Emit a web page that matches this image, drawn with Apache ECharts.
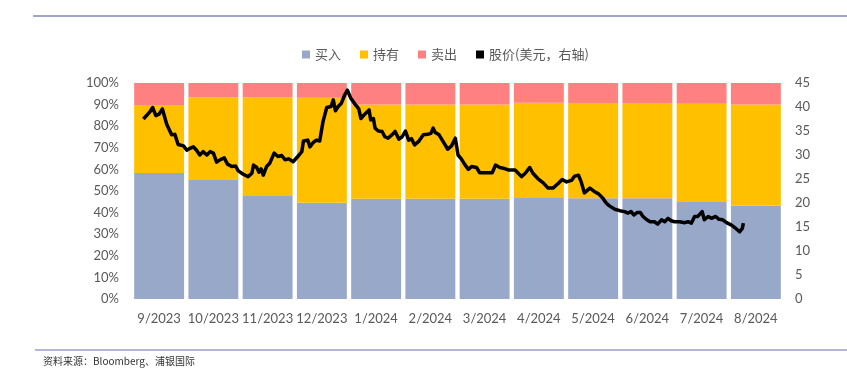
<!DOCTYPE html>
<html lang="zh">
<head>
    <meta charset="UTF-8">
    <title>评级分布与股价</title>
    <style type="text/css">
        * {
            margin: 0;
            padding: 0;
        }

        html, body {
            width: 100%;
            height: 100%;
            background: #fff;
        }

        #chart-panel {
            width: 847px;
            height: 369px;
        }
    </style>
</head>
<body>

<div id="chart-panel"></div>

<script src="https://cdn.jsdelivr.net/npm/echarts@6/dist/echarts.min.js"></script>
<script>

    // 月份
    let months = ['9/2023', '10/2023', '11/2023', '12/2023', '1/2024', '2/2024',
        '3/2024', '4/2024', '5/2024', '6/2024', '7/2024', '8/2024'];
    // 评级占比 (%)
    let buyPct = [58.3, 55.1, 48.0, 44.6, 46.4, 46.4, 46.4, 46.8, 46.6, 46.6, 44.9, 43.2];
    let holdPct = [31.5, 38.3, 45.4, 48.6, 43.7, 43.7, 43.7, 44.1, 44.1, 44.1, 45.5, 46.9];
    let sellPct = [10.2, 6.6, 6.6, 6.8, 9.9, 9.9, 9.9, 9.1, 9.3, 9.3, 9.6, 9.9];
    // 股价: 距 2023-09-01 的月数, 价格(美元)
    let priceMonth = [0.21, 0.33, 0.38, 0.44, 0.50, 0.56, 0.64, 0.67, 0.73, 0.79, 0.85, 0.95,
        1.01, 1.07, 1.13, 1.19, 1.25, 1.31, 1.38, 1.44, 1.50, 1.56, 1.62, 1.70, 1.76, 1.84, 1.91, 1.96,
        2.05, 2.14, 2.21, 2.24, 2.30, 2.34, 2.38, 2.42, 2.48, 2.54, 2.62, 2.69, 2.76, 2.82, 2.89, 2.97,
        3.00, 3.08, 3.13, 3.16, 3.24, 3.28, 3.34, 3.40, 3.46, 3.52, 3.59, 3.67, 3.71, 3.75, 3.80, 3.86, 3.92, 3.97,
        4.03, 4.11, 4.18, 4.22, 4.29, 4.37, 4.40, 4.45, 4.48, 4.54, 4.61, 4.66, 4.72, 4.80, 4.85, 4.92, 4.98,
        5.04, 5.10, 5.15, 5.21, 5.29, 5.37, 5.45, 5.51, 5.55, 5.59, 5.66, 5.73, 5.82, 5.89, 5.96,
        6.01, 6.07, 6.13, 6.20, 6.26, 6.35, 6.41, 6.50, 6.64, 6.70, 6.78, 6.86, 6.93,
        7.06, 7.12, 7.18, 7.25, 7.33, 7.39, 7.48, 7.58, 7.67, 7.76, 7.85, 7.93,
        8.01, 8.10, 8.16, 8.23, 8.28, 8.34, 8.44, 8.52, 8.60, 8.68, 8.74, 8.80, 8.90, 8.99,
        9.08, 9.14, 9.20, 9.25, 9.31, 9.37, 9.42, 9.49, 9.55, 9.63, 9.69, 9.76, 9.82, 9.88, 9.94,
        10.00, 10.09, 10.19, 10.25, 10.31, 10.37, 10.43, 10.51, 10.55, 10.62, 10.68, 10.76, 10.82, 10.89, 10.96,
        11.05, 11.13, 11.20, 11.25, 11.27];
    let price = [37.5, 39.0, 39.9, 38.2, 38.5, 39.6, 36.4, 36.8, 34.2, 34.3, 32.2, 31.9,
        31.0, 31.4, 31.7, 31.0, 30.0, 30.7, 30.0, 30.7, 30.4, 28.5, 29.0, 29.4, 28.1, 27.6, 27.7, 26.7,
        26.0, 25.5, 26.2, 27.9, 27.4, 26.4, 27.1, 25.8, 27.6, 28.3, 30.4, 29.7, 29.9, 29.0, 29.2, 28.6,
        28.3, 30.0, 30.7, 32.9, 33.1, 31.7, 32.6, 33.1, 32.9, 36.9, 39.9, 40.1, 41.5, 39.2, 40.1, 40.8, 42.5, 43.5,
        41.9, 40.6, 39.6, 37.6, 38.5, 39.4, 37.3, 37.6, 35.6, 35.0, 34.9, 33.8, 33.5, 34.3, 34.9, 33.3, 33.8,
        35.0, 33.1, 33.4, 32.1, 32.9, 34.2, 34.3, 34.5, 35.6, 34.7, 34.2, 32.9, 31.2, 31.9, 33.5,
        30.0, 29.2, 28.1, 27.0, 27.6, 27.4, 26.3, 26.3, 26.3, 27.9, 27.4, 27.2, 26.9,
        26.9, 26.2, 25.5, 26.2, 27.4, 26.2, 25.1, 24.2, 23.1, 23.1, 24.0, 24.9,
        24.4, 24.7, 25.6, 25.8, 24.4, 22.1, 23.1, 22.4, 21.9, 21.0, 20.0, 19.4, 18.7, 18.4,
        18.2, 17.9, 18.2, 17.5, 18.0, 18.0, 17.2, 16.5, 16.1, 16.1, 15.6, 16.5, 16.1, 16.8, 16.3,
        16.1, 16.1, 15.9, 16.1, 15.8, 17.2, 17.2, 18.2, 16.5, 17.2, 16.8, 17.2, 16.6, 16.5, 15.9,
        15.4, 14.7, 14.0, 14.7, 15.8];
    let leftTicks = { min: 0, max: 100, interval: 10 };
    let rightTicks = { min: 0, max: 45, interval: 5 };

    let priceData = priceMonth.map((m, i) => [m, price[i]]);

    let labelFont = "Lato, 'Noto Sans', sans-serif";
    let cjkFont = "'Noto Sans CJK SC', sans-serif";
    let axisColor = '#595959';

    var myChart = echarts.init(document.getElementById('chart-panel'), null, { renderer: 'canvas' });

    var option = {
        animation: false,
        backgroundColor: '#fff',
        legend: {
            left: 297,
            top: 43,
            itemWidth: 8,
            itemHeight: 8,
            itemGap: 19,
            icon: 'rect',
            textStyle: {
                color: axisColor,
                fontSize: 13,
                fontFamily: cjkFont
            },
            data: ['买入', '持有', '卖出', '股价(美元，右轴)']
        },
        grid: {
            left: 132,
            right: 64,
            top: 83,
            bottom: 70
        },
        xAxis: [{
            type: 'category',
            data: months,
            axisLine: { show: false },
            axisTick: { show: false },
            axisLabel: {
                interval: 0,
                color: axisColor,
                fontSize: 13,
                fontFamily: labelFont,
                margin: 13
            }
        }, {
            type: 'value',
            min: 0,
            max: 12,
            show: false
        }],
        yAxis: [{
            type: 'value',
            min: leftTicks.min,
            max: leftTicks.max,
            interval: leftTicks.interval,
            splitLine: { show: false },
            axisLine: { show: false },
            axisTick: { show: false },
            axisLabel: {
                formatter: '{value}%',
                color: axisColor,
                fontSize: 13,
                fontFamily: labelFont,
                margin: 13
            }
        }, {
            type: 'value',
            min: rightTicks.min,
            max: rightTicks.max,
            interval: rightTicks.interval,
            splitLine: { show: false },
            axisLine: { show: false },
            axisTick: { show: false },
            axisLabel: {
                color: axisColor,
                fontSize: 13,
                fontFamily: labelFont,
                margin: 12
            }
        }],
        series: [{
            name: '买入',
            type: 'bar',
            stack: 'pct',
            barCategoryGap: '8%',
            itemStyle: { color: '#98A8C8' },
            data: buyPct
        }, {
            name: '持有',
            type: 'bar',
            stack: 'pct',
            itemStyle: { color: '#FFC000' },
            data: holdPct
        }, {
            name: '卖出',
            type: 'bar',
            stack: 'pct',
            itemStyle: { color: '#FF8080' },
            data: sellPct
        }, {
            name: '股价(美元，右轴)',
            type: 'line',
            xAxisIndex: 1,
            yAxisIndex: 1,
            showSymbol: false,
            symbol: 'none',
            z: 5,
            itemStyle: { color: '#000' },
            lineStyle: {
                color: '#000',
                width: 3.5,
                join: 'round'
            },
            data: priceData
        }],
        graphic: [{
            type: 'line',
            shape: { x1: 33, y1: 16, x2: 847, y2: 16 },
            style: { stroke: '#A3A3D0', lineWidth: 2 }
        }, {
            type: 'line',
            shape: { x1: 35, y1: 350, x2: 847, y2: 350 },
            style: { stroke: '#9C9CCC', lineWidth: 1.5 }
        }, {
            type: 'text',
            left: 43,
            top: 356,
            style: {
                text: '资料来源：Bloomberg、浦银国际',
                fill: '#333',
                fontSize: 10,
                fontFamily: cjkFont
            }
        }]
    };
    myChart.setOption(option);
</script>
</body>
</html>
